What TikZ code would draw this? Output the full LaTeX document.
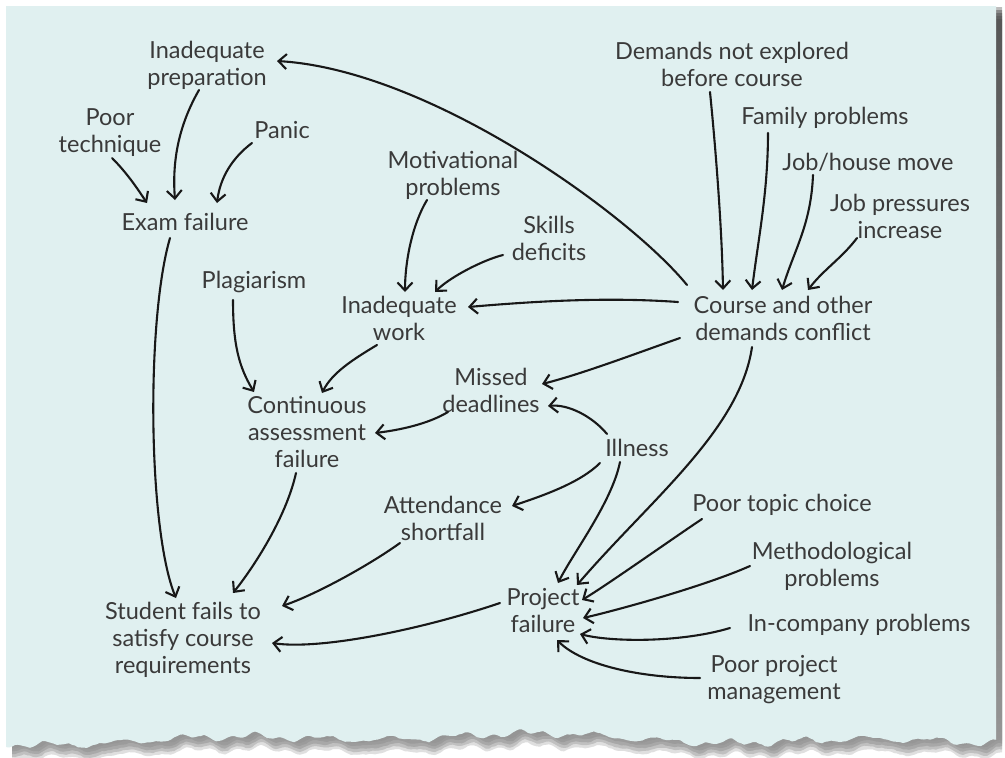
\documentclass[tikz,border=0pt]{standalone}
\usepackage{fontspec}
\setmainfont{Lato}
\usetikzlibrary{arrows.meta}
\definecolor{panel}{RGB}{224,240,240}
\definecolor{ink}{RGB}{58,58,58}
\definecolor{pen}{RGB}{24,24,24}
\definecolor{shade}{RGB}{150,150,156}

\begin{document}
\begin{tikzpicture}[x=1pt,y=-1pt,
  declare function={tear(\t)=739+2.5*sin(5.3*\t)+1.5*sin(13.7*\t)+3*sin(1.1*\t+30)+3*sin(0.43*\t+70)+0.8*sin(15.1*\t+17)+0.5*rand;},
  panelshape/.style={insert path={(6,6) -- (996,6) -- plot[domain=996:6,samples=331] (\x,{tear(\x)}) -- cycle}},
  lbl/.style={text=ink, align=center, inner sep=0pt, font=\fontsize{23.5}{27}\selectfont},
  arr/.style={draw=pen, line width=2.1pt, line cap=round,
    -{Straight Barb[length=8pt,width=15pt,line width=2.1pt]}}]
\useasboundingbox (0,0) rectangle (1005,758);
\pgfmathsetseed{11}

% sheet of paper with torn lower edge and a soft shadow
\foreach \d/\o in {1/.2,4/.25,7/.25,10/.2,13/.15}{
  \begin{scope}[shift={(6,\d)}]
    \fill[shade,opacity=\o] [panelshape];
  \end{scope}}
\fill[panel] [panelshape];

% causes and effects
\node[lbl] (prep) at (207,65) {Inadequate\\preparation};
\node[lbl] (tech) at (110,133) {Poor\\technique};
\node[lbl] (panic) at (282,130) {Panic};
\node[lbl] (exam) at (185,222) {Exam failure};
\node[lbl] (demexp) at (732,64) {Demands not explored\\before course};
\node[lbl] (family) at (825,118) {Family problems};
\node[lbl] (jobmove) at (868,162) {Job/house move};
\node[lbl] (jobpress) at (900,216) {Job pressures\\increase};
\node[lbl] (course) at (783,318) {Course and other\\demands conflict};
\node[lbl] (motiv) at (453,175) {Motivational\\problems};
\node[lbl] (skills) at (549,238) {Skills\\deficits};
\node[lbl] (work) at (399,318) {Inadequate\\work};
\node[lbl] (plag) at (254,282) {Plagiarism};
\node[lbl] (cont) at (307,432) {Continuous\\assessment\\failure};
\node[lbl] (missed) at (491,390) {Missed\\deadlines};
\node[lbl] (illness) at (637,448) {Illness};
\node[lbl] (attend) at (443,518) {Attendance\\shortfall};
\node[lbl] (topic) at (782,505) {Poor topic choice};
\node[lbl] (method) at (832,566) {Methodological\\problems};
\node[lbl] (project) at (543,611) {Project\\failure};
\node[lbl] (incomp) at (859,625) {In-company problems};
\node[lbl] (ppm) at (774,680) {Poor project\\management};
\node[lbl] (student) at (183,640) {Student fails to\\satisfy course\\requirements};

% links
\draw[arr] ([shift={(-96,-33)}]course.center) .. controls +(-57,-70) and +(153,9) .. ([shift={(70,-4)}]prep.center);
\draw[arr] ([shift={(-22,28)}]demexp.center) .. controls +(6,60) and +(-1,-60) .. ([shift={(-60,-28)}]course.center);
\draw[arr] ([shift={(-57,15)}]family.center) .. controls +(0,60) and +(6,-50) .. ([shift={(-31,-28)}]course.center);
\draw[arr] ([shift={(-55,13)}]jobmove.center) .. controls +(-2,50) and +(12,-40) .. ([shift={(-1,-28)}]course.center);
\draw[arr] ([shift={(-43,22)}]jobpress.center) .. controls +(-15,20) and +(15,-20) .. ([shift={(25,-28)}]course.center);
\draw[arr] ([shift={(-105,-16)}]course.center) .. controls +(-70,-5) and +(70,-6) .. ([shift={(69,-11)}]work.center);
\draw[arr] ([shift={(-103,20)}]course.center) .. controls +(-40,14) and +(40,-10) .. ([shift={(51,-6)}]missed.center);
\draw[arr] ([shift={(-31,29)}]course.center) .. controls +(-12,83) and +(73,-85) .. ([shift={(34,-26)}]project.center);
\draw[arr] ([shift={(-26,25)}]motiv.center) .. controls +(-15,25) and +(0,-30) .. ([shift={(6,-26)}]work.center);
\draw[arr] ([shift={(-46,17)}]skills.center) .. controls +(-20,5) and +(15,-15) .. ([shift={(36,-26)}]work.center);
\draw[arr] ([shift={(-8,25)}]prep.center) .. controls +(-20,35) and +(-3,-40) .. ([shift={(-10,-22)}]exam.center);
\draw[arr] ([shift={(2,25)}]tech.center) .. controls +(15,15) and +(-10,-15) .. ([shift={(-38,-19)}]exam.center);
\draw[arr] ([shift={(-30,13)}]panic.center) .. controls +(-20,15) and +(3,-25) .. ([shift={(32,-19)}]exam.center);
\draw[arr] ([shift={(-15,16)}]exam.center) .. controls +(-24,82) and +(-28,-68) .. ([shift={(-7,-42)}]student.center);
\draw[arr] ([shift={(-21,18)}]plag.center) .. controls +(0,45) and +(-15,-25) .. ([shift={(-53,-40)}]cont.center);
\draw[arr] ([shift={(-22,27)}]work.center) .. controls +(-25,15) and +(10,-20) .. ([shift={(15,-39)}]cont.center);
\draw[arr] ([shift={(-43,22)}]missed.center) .. controls +(-20,12) and +(25,-3) .. ([shift={(68,1)}]cont.center);
\draw[arr] ([shift={(-30,-14)}]illness.center) .. controls +(-15,-18) and +(20,-2) .. ([shift={(57,16)}]missed.center);
\draw[arr] ([shift={(-37,15)}]illness.center) .. controls +(-20,20) and +(30,-10) .. ([shift={(69,-12)}]attend.center);
\draw[arr] ([shift={(-17,14)}]illness.center) .. controls +(-8,40) and +(15,-30) .. ([shift={(15,-28)}]project.center);
\draw[arr] ([shift={(-11,41)}]cont.center) .. controls +(-10,45) and +(20,-25) .. ([shift={(50,-47)}]student.center);
\draw[arr] ([shift={(-43,25)}]attend.center) .. controls +(-35,25) and +(30,-10) .. ([shift={(99,-34)}]student.center);
\draw[arr] ([shift={(-43,-8)}]project.center) .. controls +(-80,27) and +(48,7) .. ([shift={(89,3)}]student.center);
\draw[arr] ([shift={(-80,14)}]topic.center) .. controls +(-30,20) and +(25,-15) .. ([shift={(39,-11)}]project.center);
\draw[arr] ([shift={(-82,0)}]method.center) .. controls +(-45,20) and +(35,-8) .. ([shift={(40,7)}]project.center);
\draw[arr] ([shift={(-129,3)}]incomp.center) .. controls +(-50,15) and +(30,8) .. ([shift={(37,23)}]project.center);
\draw[arr] ([shift={(-74,-2)}]ppm.center) .. controls +(-60,0) and +(25,25) .. ([shift={(14,29)}]project.center);
\end{tikzpicture}
\end{document}
